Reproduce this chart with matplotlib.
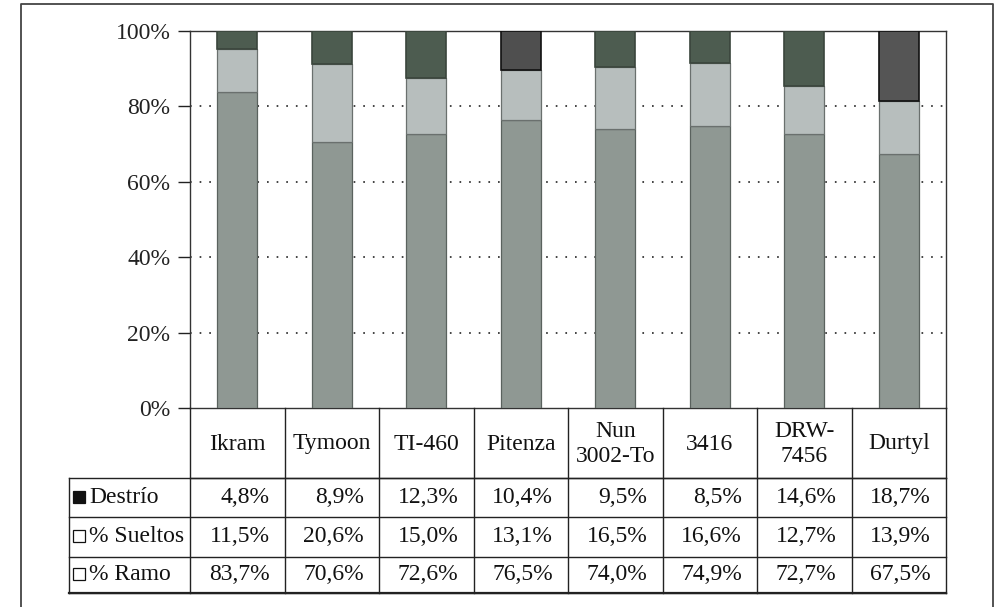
import matplotlib
matplotlib.use("Agg")
import matplotlib.pyplot as plt
from matplotlib.patches import Rectangle
from matplotlib.lines import Line2D
import numpy as np

categories = ["Ikram", "Tymoon", "TI-460", "Pitenza", "Nun\n3002-To", "3416", "DRW-\n7456", "Durtyl"]
destrio = [4.8, 8.9, 12.3, 10.4, 9.5, 8.5, 14.6, 18.7]
sueltos = [11.5, 20.6, 15.0, 13.1, 16.5, 16.6, 12.7, 13.9]
ramo = [83.7, 70.6, 72.6, 76.5, 74.0, 74.9, 72.7, 67.5]
series_labels = ["Destrío", "% Sueltos", "% Ramo"]
yticks = [0, 20, 40, 60, 80, 100]

W, H = 997, 607
FONT = ["Liberation Serif", "DejaVu Serif"]
FS = 17

fig = plt.figure(figsize=(W / 100, H / 100), dpi=100)
fig.patch.set_facecolor("white")

def fx(px):
    return px / W

def fy(py):
    return 1 - py / H

# plot area in pixels
L, R, T, B = 190, 946, 31, 408
ax = fig.add_axes([fx(L), fy(B), fx(R - L), (B - T) / H])

n = len(categories)
x = np.arange(n)
ramo_c = "#8f9893"
sueltos_c = "#b7bebd"
destrio_c = ["#4d5c50", "#4d5c50", "#4d5c50", "#4f4f4f", "#4d5c50", "#4d5c50", "#4d5c50", "#555555"]
destrio_edge = ["#3a453c", "#3a453c", "#3a453c", "#111111", "#3a453c", "#3a453c", "#3a453c", "#111111"]
bw = 0.42
ramo_a = np.array(ramo)
sue_a = np.array(sueltos)
ax.bar(x, ramo_a, bw, color=ramo_c, edgecolor="#5a625e", linewidth=0.9, zorder=3)
ax.bar(x, sue_a, bw, bottom=ramo_a, color=sueltos_c, edgecolor="#6a706e", linewidth=0.9, zorder=3)
ax.bar(x, destrio, bw, bottom=ramo_a + sue_a, color=destrio_c, edgecolor=destrio_edge, linewidth=1.2, zorder=3)

ax.set_xlim(-0.5, n - 0.5)
ax.set_ylim(0, 100)
ax.set_yticks(yticks)
ax.set_yticklabels([f"{v}%" for v in yticks], fontfamily=FONT, fontsize=FS)
ax.set_xticks([])
ax.tick_params(axis="y", direction="out", length=8.6, width=1.0, pad=5.5, colors="#222222")
for v in yticks[1:-1]:
    ax.axhline(v, color="#111111", linewidth=1.1, linestyle=(0, (1.1, 5.2)), zorder=1)
for s in ax.spines.values():
    s.set_color("#333333")
    s.set_linewidth(1.0)

# ---- table (in figure pixel coordinates) ----
def line(x0, y0, x1, y1, lw=1.0, c="#222222"):
    fig.add_artist(Line2D([fx(x0), fx(x1)], [fy(y0), fy(y1)], color=c, linewidth=lw))

colw = (R - L) / n
hdr_bot = 478
rows_y = [478, 517, 557, 593]
lab_left = 69

# header row
line(L, hdr_bot, R, hdr_bot)
for i in range(n + 1):
    line(L + i * colw, B, L + i * colw, rows_y[-1])
for i, c in enumerate(categories):
    fig.text(fx(L + (i + 0.5) * colw), fy((B + hdr_bot) / 2 + 1), c, ha="center", va="center",
             fontfamily=FONT, fontsize=FS, linespacing=1.2, color="#111111")

# data rows
for y in rows_y:
    line(lab_left, y, R, y)
line(lab_left, rows_y[0], lab_left, rows_y[-1])
line(lab_left, rows_y[-1], R, rows_y[-1], lw=1.6)

data_rows = [destrio, sueltos, ramo]
fills = ["#111111", "white", "white"]
for r, (lab, vals) in enumerate(zip(series_labels, data_rows)):
    yc = (rows_y[r] + rows_y[r + 1]) / 2
    sq = 12
    fig.add_artist(Rectangle((fx(73), fy(yc + sq / 2 - 1)), sq / W, sq / H,
                             facecolor=fills[r], edgecolor="#111111", linewidth=0.9))
    fig.text(fx(89), fy(yc), lab, ha="left", va="center", fontfamily=FONT, fontsize=FS,
             color="#111111")
    for i, v in enumerate(vals):
        fig.text(fx(L + (i + 1) * colw - 15), fy(yc), f"{v:.1f}%".replace(".", ","),
                 ha="right", va="center", fontfamily=FONT, fontsize=FS, color="#111111")

# outer frame
fig.add_artist(Line2D([fx(21), fx(21), fx(993), fx(993)], [fy(612), fy(4), fy(4), fy(612)],
                      color="#444444", linewidth=1.3))

fig.savefig("out.png", dpi=100, facecolor="white")
